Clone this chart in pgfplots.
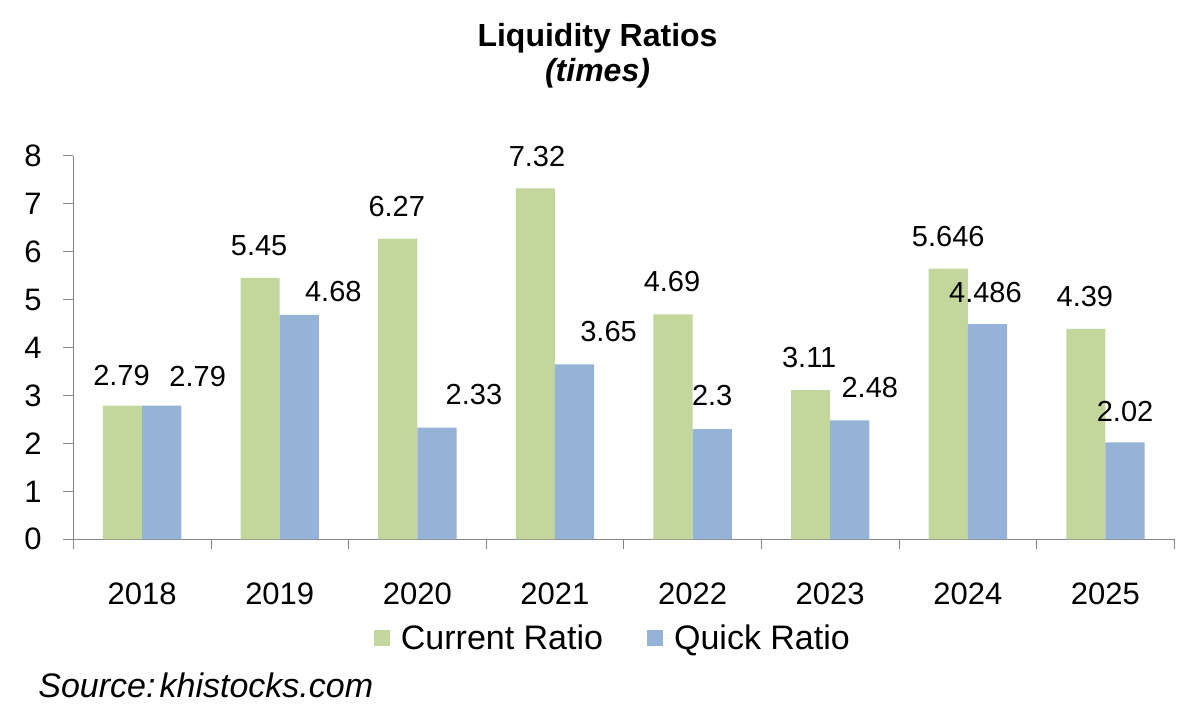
\documentclass[border=0pt]{standalone}
\usepackage{pgfplots}
\pgfplotsset{compat=1.18}
\usepackage{pgfplotstable}
\usepackage{fontspec}
\setmainfont{Liberation Sans}
\definecolor{cgreen}{HTML}{C3D69B}
\definecolor{cblue}{HTML}{95B3D7}
\definecolor{axgray}{HTML}{868686}

\pgfplotstableread{
x y lab dx dy
0 2.79 2.79 -0.5 15
1 5.45 5.45 -0.5 16.3
2 6.27 6.27 -0.5 16.1
3 7.32 7.32 0.8 15.7
4 4.69 4.69 -0.5 16.2
5 3.11 3.11 -0.7 16.2
6 5.646 5.646 0 15.8
7 4.39 4.39 -0.5 16
}\current

\pgfplotstableread{
x y lab dx dy
0 2.79 2.79 18 14.7
1 4.68 4.68 17 11.9
2 2.33 2.33 18.5 16.7
3 3.65 3.65 17 16.5
4 2.3 2.3 0 16.5
5 2.48 2.48 10 16.5
6 4.486 4.486 -1 16
7 2.02 2.02 0 15.7
}\quick

\begin{document}
\begin{tikzpicture}[x=1pt,y=1pt]
\useasboundingbox (0,0) rectangle (600,356);
\begin{axis}[
  at={(36.65pt,86.35pt)}, anchor=south west,
  scale only axis, width=550.5pt, height=191.8pt,
  ybar=0pt, bar width=19.6pt,
  xmin=-0.5, xmax=7.5, ymin=0, ymax=8,
  xtick={0,...,7},
  xticklabels={2018,2019,2020,2021,2022,2023,2024,2025},
  minor xtick={-0.5,0.5,...,7.5},
  ytick={0,...,8},
  tick align=outside,
  major tick length=5pt, minor tick length=5pt,
  major x tick style={draw=none},
  minor x tick style={draw=axgray, thin},
  major y tick style={draw=axgray, thin},
  axis x line*=bottom, axis y line*=left,
  axis line style={draw=axgray, thin, -},
  /pgf/number format/assume math mode=true,
  tick label style={font=\fontsize{15.5}{18}\selectfont, black},
  yticklabel style={anchor=east, inner sep=0pt, xshift=-10.65pt},
  xticklabel style={anchor=base, inner sep=0pt, yshift=-27.85pt},
  legend style={draw=none, fill=none, at={(0.491,-0.2586)}, anchor=center,
    font=\fontsize{17}{20}\selectfont, legend columns=2,
    /tikz/every even column/.append style={column sep=20pt}},
  point meta=explicit symbolic,
  nodes near coords={\pgfplotspointmeta},
  nodes near coords style={font=\fontsize{14.5}{17}\selectfont, black, anchor=center},
  clip=false,
]
\addplot[draw=none, fill=cgreen,
  legend image code/.code={\fill[cgreen] (0pt,-4pt) rectangle (8pt,4pt); \path (8pt,0pt) -- (11.5pt,0pt);},
  visualization depends on={\thisrow{dx}\as\dx},
  visualization depends on={\thisrow{dy}\as\dy},
  nodes near coords style={xshift=\dx pt, yshift=\dy pt}]
  table[x=x, y=y, meta=lab] {\current};
\addlegendentry{Current Ratio}
\addplot[draw=none, fill=cblue,
  legend image code/.code={\fill[cblue] (0pt,-4pt) rectangle (8pt,4pt); \path (8pt,0pt) -- (11.5pt,0pt);},
  visualization depends on={\thisrow{dx}\as\dx},
  visualization depends on={\thisrow{dy}\as\dy},
  nodes near coords style={xshift=\dx pt, yshift=\dy pt}]
  table[x=x, y=y, meta=lab] {\quick};
\addlegendentry{Quick Ratio}
\end{axis}
\node[anchor=base, inner sep=0pt, font=\fontsize{16}{19}\selectfont\bfseries] at (298.75,332.65) {Liquidity Ratios};
\node[anchor=base, inner sep=0pt, font=\fontsize{16}{19}\selectfont\bfseries\itshape] at (298.75,315.15) {(times)};
\node[anchor=base west, inner sep=0pt, font=\fontsize{17}{20}\selectfont\itshape] at (19,7) {Source:\hspace{0.12em}khistocks.com};
\end{tikzpicture}
\end{document}
